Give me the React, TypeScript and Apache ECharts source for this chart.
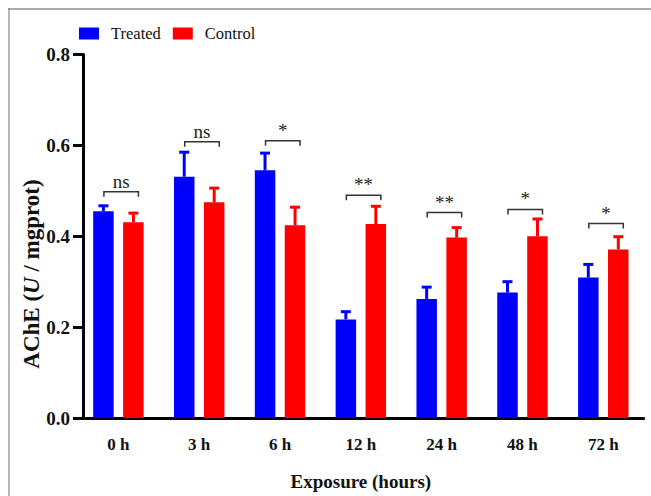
import React, { useEffect, useRef } from "react";
import * as echarts from "echarts";

const categories = ["0 h", "3 h", "6 h", "12 h", "24 h", "48 h", "72 h"];
const treatedMean = [0.455, 0.531, 0.545, 0.217, 0.262, 0.276, 0.309];
const treatedErr = [0.012, 0.054, 0.038, 0.017, 0.026, 0.024, 0.029];
const controlMean = [0.431, 0.475, 0.424, 0.427, 0.397, 0.4, 0.371];
const controlErr = [0.02, 0.031, 0.04, 0.039, 0.022, 0.038, 0.028];
const bracketLevel = [0.498, 0.608, 0.61, 0.49, 0.452, 0.459, 0.428];
const significance = ["ns", "ns", "*", "**", "**", "*", "*"];
const yTicks = { min: 0, max: 0.8, interval: 0.2 };

const SERIF = "Liberation Serif";
const BLUE = "#0000ff";
const RED = "#ff0000";

function errorSeries(name: string, means: number[], errs: number[], color: string, off: number) {
  return {
    type: "custom",
    name: name + " error",
    z: 5,
    clip: false,
    silent: true,
    data: means.map((m, i) => [i, m, m + errs[i]]),
    encode: { x: 0, y: [1, 2] },
    renderItem: (params: any, api: any) => {
      const i = api.value(0);
      const base = api.coord([i, api.value(1)]);
      const top = api.coord([i, api.value(2)]);
      const x = base[0] + off;
      return {
        type: "group",
        children: [
          { type: "line", shape: { x1: x, y1: base[1], x2: x, y2: top[1] }, style: { stroke: color, lineWidth: 3 } },
          { type: "line", shape: { x1: x - 5, y1: top[1], x2: x + 5, y2: top[1] }, style: { stroke: color, lineWidth: 3 } },
        ],
      };
    },
  };
}

export default function App() {
  const ref = useRef<HTMLDivElement>(null);
  useEffect(() => {
    if (!ref.current) return;
    const chart = echarts.init(ref.current, null, { renderer: "svg" });
    const option: any = {
      animation: false,
      backgroundColor: "#ffffff",
      grid: { left: 78, right: 7.3, top: 54.5, bottom: 71, containLabel: false },
      legend: {
        data: ["Treated", "Control"],
        left: 79,
        top: 25,
        padding: 0,
        itemWidth: 20,
        itemHeight: 12,
        itemGap: 12,
        icon: "rect",
        textStyle: { fontFamily: SERIF, fontSize: 16.5, color: "#111", padding: [0, 0, 0, 7] },
      },
      xAxis: {
        type: "category",
        data: categories,
        name: "Exposure (hours)",
        nameLocation: "middle",
        nameGap: 54,
        nameTextStyle: { fontFamily: SERIF, fontSize: 19, fontWeight: "bold", color: "#111" },
        axisLine: { lineStyle: { color: "#000", width: 3 } },
        axisTick: { alignWithLabel: true, length: 10, lineStyle: { color: "#000", width: 3 } },
        axisLabel: { margin: 18, fontFamily: SERIF, fontSize: 17, fontWeight: "bold", color: "#111" },
        splitLine: { show: false },
      },
      yAxis: {
        type: "value",
        min: yTicks.min,
        max: yTicks.max,
        interval: yTicks.interval,
        offset: -5,
        axisLine: { show: true, lineStyle: { color: "#000", width: 3 } },
        axisTick: { show: true, length: 10, lineStyle: { color: "#000", width: 3 } },
        axisLabel: {
          margin: 13,
          fontFamily: SERIF,
          fontSize: 19,
          fontWeight: "bold",
          color: "#111",
          formatter: (v: number) => v.toFixed(1),
        },
        splitLine: { show: false },
      },
      graphic: [
        { type: "line", shape: { x1: 8, y1: 9, x2: 651, y2: 9 }, style: { stroke: "#aaaaaa", lineWidth: 2 } },
        { type: "line", shape: { x1: 9, y1: 8, x2: 9, y2: 496 }, style: { stroke: "#888888", lineWidth: 1.2 } },
        {
          type: "text",
          x: 31,
          y: 274,
          rotation: Math.PI / 2,
          style: {
            text: "AChE ({i|U} / mgprot)",
            align: "center",
            verticalAlign: "middle",
            fontFamily: SERIF,
            fontSize: 23,
            fontWeight: "bold",
            fill: "#111",
            rich: {
              i: { fontFamily: SERIF, fontSize: 23, fontWeight: "bold", fontStyle: "italic", fill: "#111" },
            },
          },
        },
      ],
      series: [
        {
          type: "bar",
          name: "Treated",
          data: treatedMean,
          barWidth: 20.5,
          barGap: "46%",
          itemStyle: { color: BLUE },
        },
        {
          type: "bar",
          name: "Control",
          data: controlMean,
          barWidth: 20.5,
          barGap: "46%",
          itemStyle: { color: RED },
        },
        errorSeries("Treated", treatedMean, treatedErr, BLUE, -15),
        errorSeries("Control", controlMean, controlErr, RED, 15),
        {
          type: "custom",
          name: "significance",
          z: 6,
          clip: false,
          silent: true,
          data: bracketLevel.map((b, i) => [i, b]),
          encode: { x: 0, y: 1 },
          renderItem: (params: any, api: any) => {
            const p = api.coord([api.value(0), api.value(1)]);
            const x1 = p[0] - 14.5;
            const x2 = p[0] + 20;
            const y = p[1];
            return {
              type: "group",
              children: [
                {
                  type: "polyline",
                  shape: { points: [[x1, y + 5], [x1, y], [x2, y], [x2, y + 5]] },
                  style: { stroke: "#333", lineWidth: 1.5, fill: "none" },
                },
                {
                  type: "text",
                  x: (x1 + x2) / 2,
                  y: y - 1,
                  style: {
                    text: significance[params.dataIndex],
                    align: "center",
                    verticalAlign: "bottom",
                    fontFamily: SERIF,
                    fontSize: 19,
                    fill: "#222",
                  },
                },
              ],
            };
          },
        },
      ],
    };
    chart.setOption(option);
    return () => chart.dispose();
  }, []);
  return (
    <div
      ref={ref}
      style={{ position: "absolute", left: 0, top: 0, width: 651, height: 496 }}
    />
  );
}
